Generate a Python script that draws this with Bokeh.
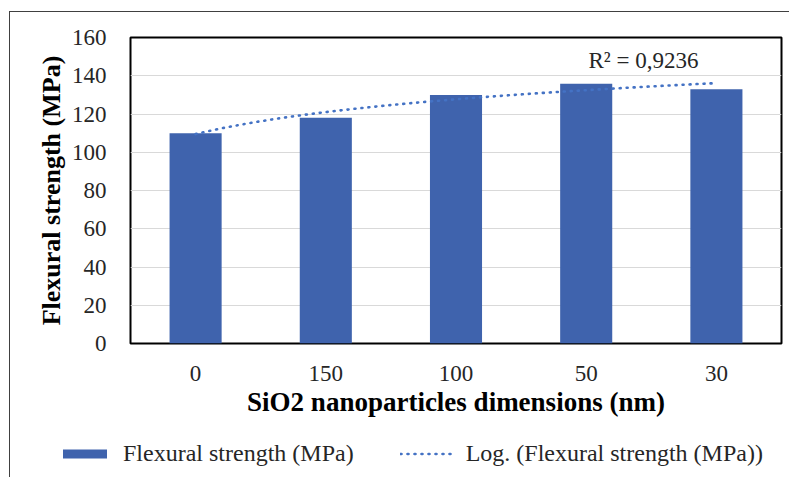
import numpy as np
from bokeh.plotting import figure
from bokeh.layouts import column
from bokeh.models import ColumnDataSource, FixedTicker, Legend, LegendItem, Label, Range1d
from bokeh.embed import file_html
from bokeh.resources import INLINE

# ---- data ----
categories = ["0", "150", "100", "50", "30"]
strength = [110.0, 118.0, 130.0, 135.8, 133.0]
y_ticks = [0, 20, 40, 60, 80, 100, 120, 140, 160]
r2_text = "R² = 0,9236"
series_name = "Flexural strength (MPa)"
trend_name = "Log. (Flexural strength (MPa))"

positions = list(range(1, len(categories) + 1))

# logarithmic trendline fitted to the bar values (as Excel does)
a, b = np.polyfit(np.log(positions), strength, 1)
tx = np.linspace(1, len(categories), 60)
ty = a * np.log(tx) + b

FONT = "Liberation Serif"
BAR = "#3F63AD"
TREND = "#4472C4"

p = figure(width=780, height=418, output_backend="svg", toolbar_location=None,
           x_range=Range1d(0.5, len(categories) + 0.5), y_range=Range1d(0, 160),
           min_border_left=120, min_border_right=9, min_border_top=25,
           min_border_bottom=87)

src = ColumnDataSource(dict(x=positions, top=strength))
bars = p.vbar(x="x", top="top", width=0.4, source=src, fill_color=BAR, line_color=None)
trend = p.line(tx, ty, line_color=TREND, line_width=2.6, line_dash="1 6", line_cap="round")

p.outline_line_color = "black"
p.outline_line_width = 2
p.background_fill_color = "white"

p.xgrid.grid_line_color = None
p.ygrid.grid_line_color = "#D9D9D9"
p.ygrid.grid_line_width = 1.2

p.xaxis.ticker = FixedTicker(ticks=positions)
p.xaxis.major_label_overrides = {pos: c for pos, c in zip(positions, categories)}
p.yaxis.ticker = FixedTicker(ticks=y_ticks)

for ax in (p.xaxis, p.yaxis):
    ax.axis_line_color = None
    ax.major_tick_line_color = None
    ax.minor_tick_line_color = None
    ax.major_label_text_font = FONT
    ax.major_label_text_font_size = "23px"
    ax.major_label_text_color = "#262626"
    ax.axis_label_text_font = FONT
    ax.axis_label_text_font_style = "bold"
    ax.axis_label_text_color = "black"

p.xaxis.axis_label = "SiO2 nanoparticles dimensions (nm)"
p.yaxis.axis_label = "Flexural strength (MPa)"
p.xaxis.axis_label_text_font_size = "27px"
p.yaxis.axis_label_text_font_size = "26px"
p.xaxis.major_label_standoff = 16
p.xaxis.axis_label_standoff = 3
p.yaxis.major_label_standoff = 18
p.yaxis.axis_label_standoff = 3

p.add_layout(Label(x=4.44, y=148, text=r2_text,
                   text_font=FONT, text_font_size="23px", text_color="#262626",
                   text_align="center", text_baseline="middle"))

# legend strip below the chart (its own small figure, holding legend proxies off-view)
lf = figure(width=780, height=47, output_backend="svg", toolbar_location=None,
            x_range=Range1d(0, 1), y_range=Range1d(0, 1),
            x_axis_type=None, y_axis_type=None, min_border=0,
            min_border_left=0, min_border_right=0, min_border_top=0, min_border_bottom=0)
lf.outline_line_color = None
lbar = lf.vbar(x=[10], top=[1], width=0.4, fill_color=BAR, line_color=None)
lline = lf.line(x=[10, 11], y=[10, 10], line_color=TREND, line_width=2.6,
                line_dash="1 6", line_cap="round")

legend = Legend(items=[LegendItem(label=series_name, renderers=[lbar]),
                       LegendItem(label=trend_name, renderers=[lline])],
                orientation="horizontal", location=(47, 10),
                glyph_width=55, glyph_height=11, label_standoff=11, spacing=46,
                padding=0, margin=0, border_line_color=None, background_fill_alpha=0,
                label_text_font=FONT, label_text_font_size="24px", label_text_color="#262626")
lf.add_layout(legend, "center")

layout = column(p, column(lf), styles={"margin-left": "9px", "margin-top": "11px",
                                       "border-left": "1px solid #404040",
                                       "border-top": "1px solid #404040"})

open("out.html", "w").write(file_html(layout, INLINE))
